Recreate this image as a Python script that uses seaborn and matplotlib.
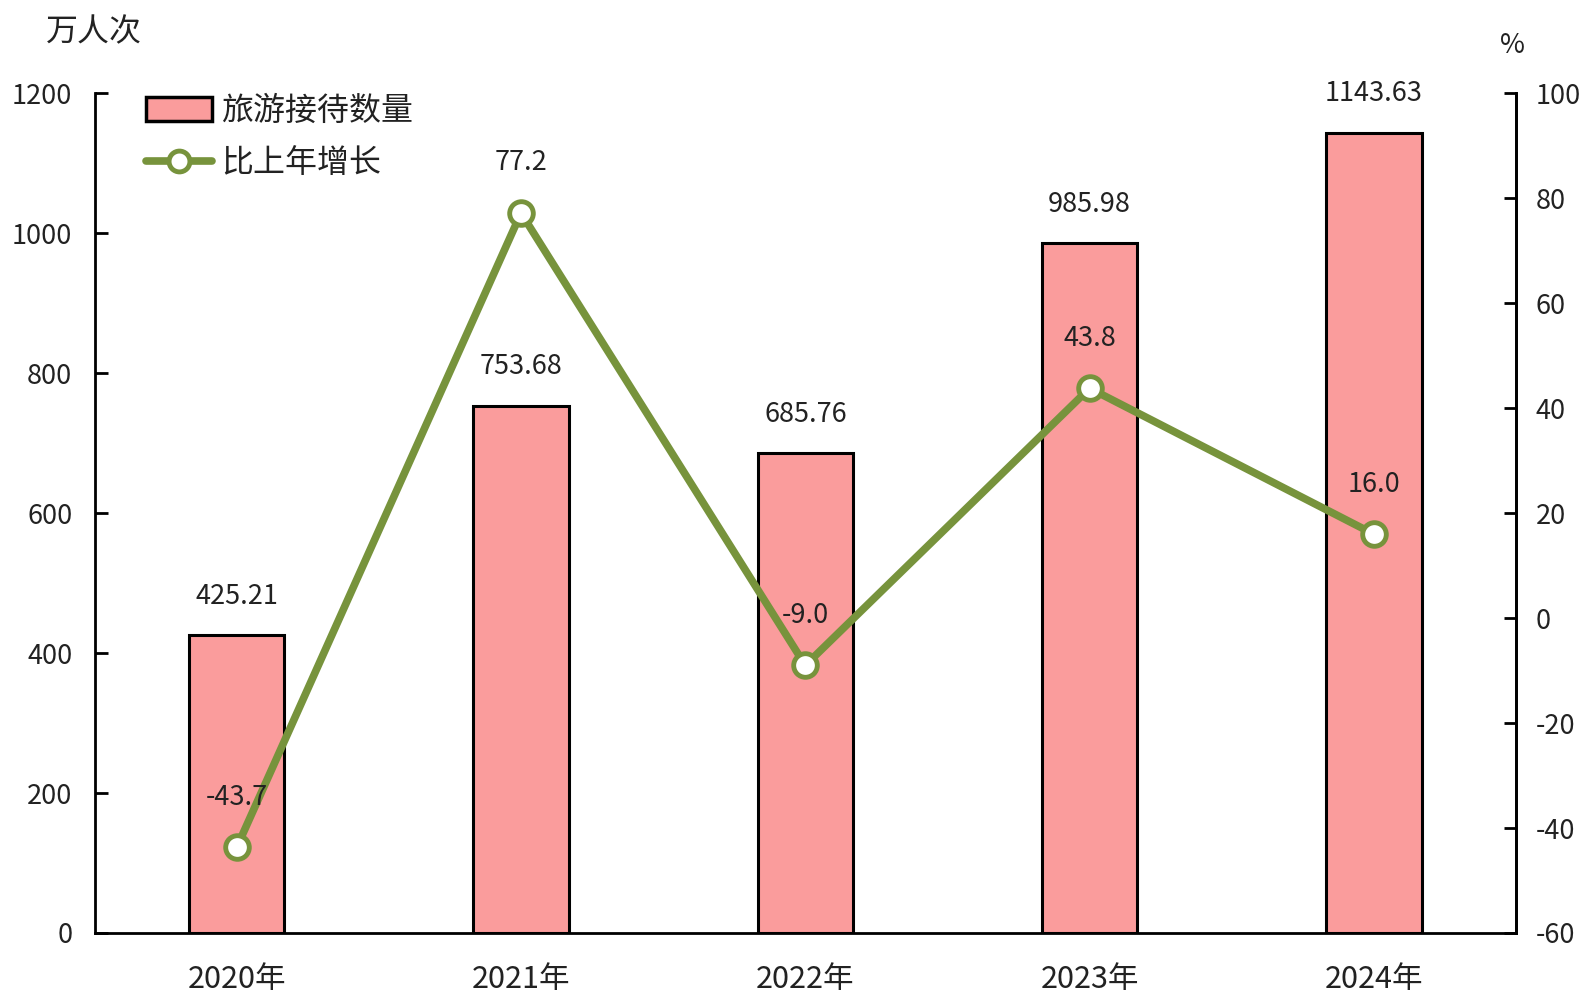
import matplotlib
matplotlib.use("Agg")
import matplotlib.pyplot as plt
import seaborn as sns
import numpy as np
import pandas as pd
from matplotlib.ticker import MultipleLocator, FixedLocator
from matplotlib.lines import Line2D
from matplotlib.patches import Patch

years = ["2020年", "2021年", "2022年", "2023年", "2024年"]
visits = [425.21, 753.68, 685.76, 985.98, 1143.63]
growth = [-43.7, 77.2, -9.0, 43.8, 16.0]
visit_labels = ["425.21", "753.68", "685.76", "985.98", "1143.63"]
growth_labels = ["-43.7", "77.2", "-9.0", "43.8", "16.0"]

sns.set_theme(style="white")
plt.rcParams['font.family'] = ['Noto Sans CJK SC', 'DejaVu Sans']
plt.rcParams['axes.unicode_minus'] = False

BAR = "#FA9C9C"
GREEN = "#77933C"
TXT = "#222222"

fig = plt.figure(figsize=(15.92, 10.07), dpi=100)
ax = fig.add_axes([0.0594, 0.0735, 0.8929, 0.8338])

df = pd.DataFrame({"year": years, "visits": visits, "growth": growth})
sns.barplot(data=df, x="year", y="visits", color=BAR, edgecolor="black",
            linewidth=2.2, width=0.336, saturation=1, ax=ax)

ax.set_ylim(0, 1200)
ax.set_xlim(-0.5, 4.5)
ax.yaxis.set_major_locator(MultipleLocator(200))
ax.set_xlabel("")
ax.set_ylabel("")
ax.spines["top"].set_visible(False)
for s in ["left", "bottom", "right"]:
    ax.spines[s].set_color("black")
    ax.spines[s].set_linewidth(2)

ax.tick_params(axis="y", direction="in", length=9, width=2, labelsize=19.5,
               colors="black", labelcolor=TXT, pad=16)
ax.tick_params(axis="x", which="major", length=0, labelsize=22, labelcolor=TXT, pad=22)
ax.xaxis.set_minor_locator(FixedLocator([0.5, 1.5, 2.5, 3.5]))
ax.tick_params(axis="x", which="minor", direction="in", length=9, width=2, color="black")

for i, (v, lab) in enumerate(zip(visits, visit_labels)):
    ax.annotate(lab, (i, v), xytext=(0, 28), textcoords="offset points",
                ha="center", va="center", fontsize=19.5, color=TXT)

ax2 = ax.twinx()
ax2.set_position(ax.get_position())
xpos = np.arange(len(growth))
sns.lineplot(x=xpos, y=growth, ax=ax2, color=GREEN, linewidth=5.5,
             marker="o", markersize=17, markerfacecolor="white",
             markeredgecolor=GREEN, markeredgewidth=3.5)
ax2.set_ylim(-60, 100)
ax2.yaxis.set_major_locator(MultipleLocator(20))
ax2.set_ylabel("")
ax2.set_xlim(-0.5, 4.5)
for s in ["top", "left", "bottom"]:
    ax2.spines[s].set_visible(False)
ax2.spines["right"].set_color("black")
ax2.spines["right"].set_linewidth(2)
ax2.tick_params(axis="y", direction="in", length=9, width=2, labelsize=19.5,
                colors="black", labelcolor=TXT, pad=14)

for i, (g, lab) in enumerate(zip(growth, growth_labels)):
    ax2.annotate(lab, (i, g), xytext=(0, 36), textcoords="offset points",
                 ha="center", va="center", fontsize=19.5, color=TXT)

handles = [Patch(facecolor=BAR, edgecolor="black", linewidth=2.5),
           Line2D([0], [0], color=GREEN, linewidth=5.5, marker="o", markersize=15,
                  markerfacecolor="white", markeredgecolor=GREEN, markeredgewidth=3.5)]
leg = ax.legend(handles, ["旅游接待数量", "比上年增长"], loc="upper left",
                bbox_to_anchor=(0.016, 1.032), frameon=False, fontsize=23,
                handlelength=2.05, handleheight=0.75, handletextpad=0.3,
                labelspacing=0.62)
for t in leg.get_texts():
    t.set_color(TXT)

fig.text(0.059, 0.968, "万人次", ha="center", va="center", fontsize=23, color=TXT)
fig.text(0.950, 0.955, "%", ha="center", va="center", fontsize=19.5, color=TXT)

fig.savefig("out.png", dpi=100, facecolor="white")
